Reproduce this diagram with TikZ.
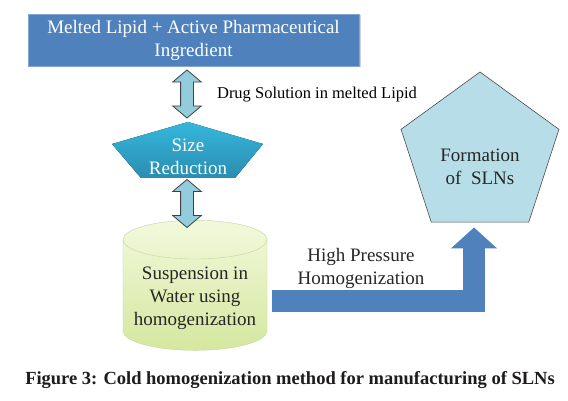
\documentclass[tikz,border=0pt]{standalone}
\usepackage{fontspec}
\setmainfont{Liberation Serif}
\usetikzlibrary{shapes.geometric,shapes.arrows,arrows.meta,shadows}
\definecolor{officeblue}{HTML}{4F81BD}
\definecolor{lightaqua}{HTML}{93CDDD}
\definecolor{paleaqua}{HTML}{B7DEE8}
\definecolor{aquatop}{HTML}{36B7DC}
\definecolor{aquabot}{HTML}{2A8DB1}
\definecolor{limetop}{HTML}{F2F9DC}
\definecolor{limebot}{HTML}{D5E79F}
\definecolor{limeline}{HTML}{C3D69B}
\definecolor{inkgrey}{HTML}{262626}
\definecolor{captionink}{HTML}{1E1B1C}
\tikzset{
  bodytext/.style={font=\fontsize{19}{23}\selectfont, align=center},
  meltbox/.style={bodytext, fill=officeblue, draw=officeblue!70!white, text=white,
    minimum width=331pt, minimum height=52pt,
    drop shadow={shadow xshift=1.5pt, shadow yshift=-1.5pt, opacity=0.35}},
  dblarrow/.style={double arrow, draw=black!75, fill=lightaqua, line width=0.8pt,
    rotate=90, minimum height=48pt, inner xsep=0pt, inner ysep=6pt,
    double arrow head extend=8pt, double arrow tip angle=100},
  cylnode/.style={cylinder, shape border rotate=90, aspect=0.3, draw=limeline,
    top color=limetop, bottom color=limebot, minimum width=144pt, minimum height=130pt,
    bodytext, text=inkgrey},
  formshape/.style={regular polygon, regular polygon sides=5, minimum size=166pt,
    draw=black!70, fill=paleaqua, line width=0.6pt},
  bigarrow/.style={draw=officeblue, line width=22pt, line join=miter,
    -{Triangle[width=45pt, length=21pt]}}
}
\begin{document}
\begin{tikzpicture}[x=1pt,y=-1pt]
\fill[white] (0,0) rectangle (568,401);
\useasboundingbox (0,0) rectangle (568,401);
\node[meltbox] (melt) at (193.5,40) {Melted Lipid + Active Pharmaceutical\\Ingredient};
\fill[top color=aquatop, bottom color=aquabot]
  (188,122) -- (263,144) -- (235,178) -- (141,178) -- (112,144) -- cycle;
\node[bodytext, text=white] (size) at (188,157) {Size\\Reduction};
\node[cylnode] (cyl) at (195,298) {Suspension in\\Water using\\homogenization};
\node[dblarrow] (arr1) at (187,94) {};
\node[dblarrow] (arr2) at (187,203.5) {};
\node[font=\fontsize{16.5}{20}\selectfont] (drug) at (317,95) {Drug Solution in melted Lipid};
\node[formshape] (form) at (480,155) {};
\node[bodytext, text=inkgrey] (formtxt) at (480,167) {Formation\\of\ \ SLNs};
\draw[bigarrow] ([xshift=5pt,yshift=-3pt]cyl.east) -| ([xshift=-6pt,yshift=-5pt]form.south);
\node[bodytext, text=inkgrey] (hp) at (361,268) {High Pressure\\Homogenization};
\node[font=\fontsize{18.5}{22}\selectfont\bfseries, text=captionink] (cap) at (290,380)
  {Figure 3: Cold homogenization method for manufacturing of SLNs};
\end{tikzpicture}
\end{document}
